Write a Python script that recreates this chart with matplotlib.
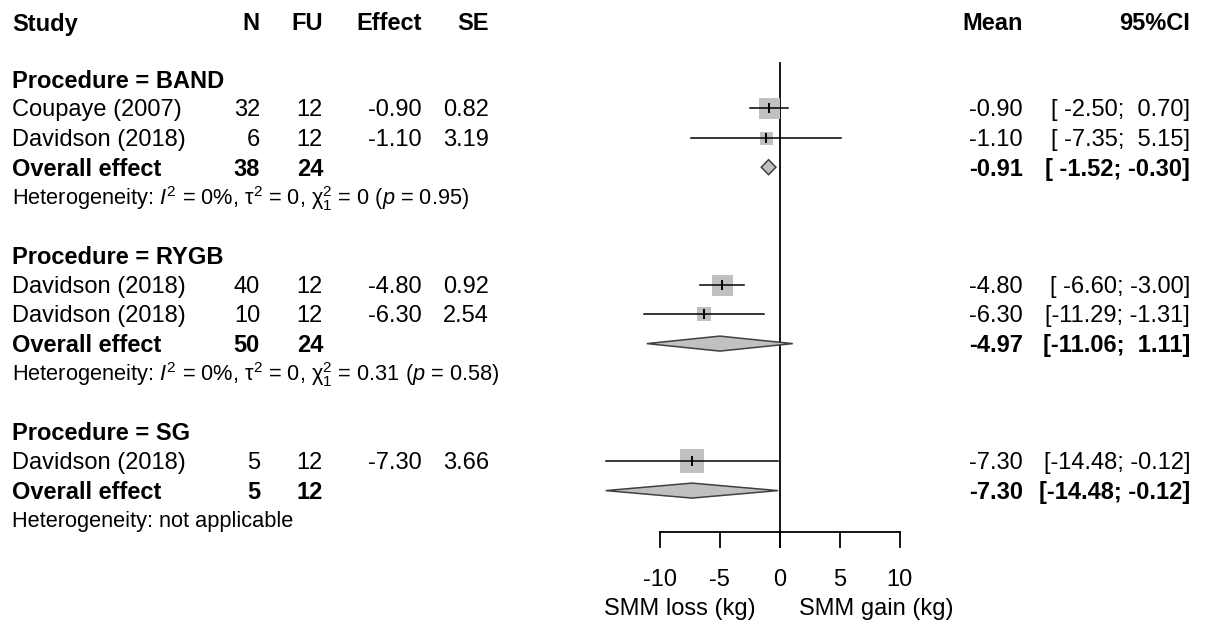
import matplotlib
matplotlib.use("Agg")
import matplotlib.pyplot as plt
from matplotlib.patches import Polygon

plt.rcParams["font.family"] = ["Liberation Sans", "DejaVu Sans"]
plt.rcParams["mathtext.fontset"] = "custom"
plt.rcParams["mathtext.rm"] = "Liberation Sans"
plt.rcParams["mathtext.it"] = "Liberation Sans:italic"
plt.rcParams["mathtext.bf"] = "Liberation Sans:bold"

# study level data
studies = ["Coupaye (2007)", "Davidson (2018)", "Davidson (2018)", "Davidson (2018)", "Davidson (2018)"]
procedure = ["BAND", "BAND", "RYGB", "RYGB", "SG"]
n = [32, 6, 40, 10, 5]
fu = [12, 12, 12, 12, 12]
effect = [-0.90, -1.10, -4.80, -6.30, -7.30]
se = [0.82, 3.19, 0.92, 2.54, 3.66]
ci_lo = [-2.50, -7.35, -6.60, -11.29, -14.48]
ci_hi = [0.70, 5.15, -3.00, -1.31, -0.12]

# subgroup summaries
groups = ["BAND", "RYGB", "SG"]
group_n = [38, 50, 5]
group_fu = [24, 24, 12]
group_mean = [-0.91, -4.97, -7.30]
group_lo = [-1.52, -11.06, -14.48]
group_hi = [-0.30, 1.11, -0.12]
het_text = [
    r"Heterogeneity: $I^2$ = 0%, $\mathrm{\tau}^2$ = 0, $\mathrm{\chi}^2_1$ = 0 ($p$ = 0.95)",
    r"Heterogeneity: $I^2$ = 0%, $\mathrm{\tau}^2$ = 0, $\mathrm{\chi}^2_1$ = 0.31 ($p$ = 0.58)",
    "Heterogeneity: not applicable",
]

ticks = [-10, -5, 0, 5, 10]

# style
box_px = [21, 13, 21, 14, 24]
box_col = "#c0c0c0"
W, H = 1205, 625
row0, row_h = 79, 29.4
zero_px, unit_px = 779.5, 12.0
fs = 17
dy = 2.0 / row_h   # small nudge so text sits like the original


def row(px):
    return (px - row0) / row_h


fig = plt.figure(figsize=(W / 100, H / 100), dpi=100)
tx = fig.add_axes([0, 0, 1, 1])
tx.set_xlim(0, W)
tx.set_ylim(row(H), row(0))
tx.axis("off")

ax = fig.add_axes([0, 0, 1, 1])
ax.set_xlim(-zero_px / unit_px, (W - zero_px) / unit_px)
ax.set_ylim(row(H), row(0))
ax.axis("off")
ax.patch.set_alpha(0)


def put(x, y, s, ha="right", bold=False, size=fs):
    tx.text(x, y + dy, s, ha=ha, va="center", fontsize=size,
            fontweight="bold" if bold else "normal")


# header
hy = row(22)
put(12, hy, "Study", ha="left", bold=True)
for x, lab in [(260, "N"), (323, "FU"), (422, "Effect"), (489, "SE"), (1023, "Mean"), (1190, "95%CI")]:
    put(x, hy, lab, bold=True)

r = 0
for g, grp in enumerate(groups):
    put(12, r, f"Procedure = {grp}", ha="left", bold=True)
    r += 1
    for i in range(len(studies)):
        if procedure[i] != grp:
            continue
        put(12, r, studies[i], ha="left")
        put(260, r, str(n[i]))
        put(323, r, str(fu[i]))
        put(422, r, f"{effect[i]:.2f}")
        put(489, r, f"{se[i]:.2f}")
        put(1023, r, f"{effect[i]:.2f}")
        put(1190, r, f"[{ci_lo[i]:6.2f};{ci_hi[i]:6.2f}]")
        ax.plot(effect[i], r, marker="s", markersize=box_px[i] * 0.72, color=box_col,
                markeredgewidth=0, zorder=2)
        ax.plot([ci_lo[i], ci_hi[i]], [r, r], color="black", lw=1.1, zorder=3)
        ax.plot(effect[i], r, marker="|", markersize=7, color="black", mew=1.4, zorder=4)
        r += 1
    put(12, r, "Overall effect", ha="left", bold=True)
    put(260, r, str(group_n[g]), bold=True)
    put(323, r, str(group_fu[g]), bold=True)
    put(1023, r, f"{group_mean[g]:.2f}", bold=True)
    put(1190, r, f"[{group_lo[g]:6.2f};{group_hi[g]:6.2f}]", bold=True)
    dh = 7.5 / row_h
    ax.add_patch(Polygon([(group_lo[g], r), (group_mean[g], r - dh), (group_hi[g], r),
                          (group_mean[g], r + dh)], closed=True, facecolor=box_col,
                         edgecolor="#404040", lw=1.1, zorder=3))
    r += 1
    put(12, r, het_text[g], ha="left", size=15.7)
    r += 2

# zero line and x axis
ax_y = row(532)
tick_y = row(547)
ax.plot([0, 0], [row(63), tick_y], color="black", lw=1.3, zorder=1)
ax.plot([ticks[0], ticks[-1]], [ax_y, ax_y], color="black", lw=1.3)
for t in ticks:
    ax.plot([t, t], [ax_y, tick_y], color="black", lw=1.3)
    ax.text(t, row(580), f"{t}", ha="center", va="center", fontsize=fs)
ax.text(-8.33, row(609), "SMM loss (kg)", ha="center", va="center", fontsize=fs)
ax.text(8.04, row(609), "SMM gain (kg)", ha="center", va="center", fontsize=fs)

fig.savefig("out.png", dpi=100, facecolor="white")
